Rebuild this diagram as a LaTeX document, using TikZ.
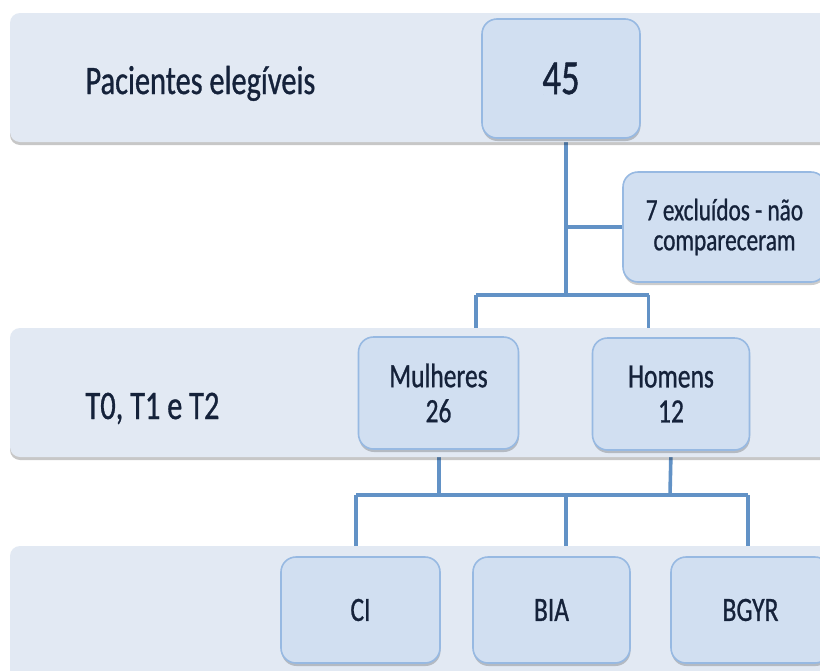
\documentclass[tikz,border=0pt]{standalone}
\usepackage{fontspec}
\setmainfont{Carlito}[FakeStretch=0.75,FakeBold=0.8]
\usetikzlibrary{shadows}
\definecolor{bandfill}{HTML}{E2E9F3}
\definecolor{boxfill}{HTML}{D1DFF1}
\definecolor{boxdraw}{HTML}{97B9E2}
\definecolor{linec}{HTML}{6292C6}
\definecolor{txt}{HTML}{15223A}
\pgfdeclarelayer{bg}
\pgfdeclarelayer{lines}
\pgfdeclarelayer{bands}
\pgfsetlayers{bg,lines,bands,main}
\begin{document}
\begin{tikzpicture}[x=1pt,y=-1pt,
  band/.style={rectangle, fill=bandfill, rounded corners=10pt, inner sep=0pt,
    drop shadow={shadow xshift=0pt, shadow yshift=-3pt, fill=black, opacity=0.22}},
  box/.style={rectangle, rounded corners=15pt, draw=boxdraw, line width=1.6pt,
    fill=boxfill, text=txt, align=center, inner sep=0pt,
    drop shadow={shadow xshift=0.5pt, shadow yshift=-3pt, fill=black, opacity=0.2}},
  lbl/.style={anchor=base west, text=txt, font=\fontsize{40.5}{40}\selectfont},
  conn/.style={draw=linec, line width=3.6pt},
  fbig/.style={font=\fontsize{49}{49}\selectfont},
  fmid/.style={font=\fontsize{34}{35}\selectfont},
  fsmall/.style={font=\fontsize{31}{30}\selectfont}]
\useasboundingbox (0,0) rectangle (820,670);
\begin{pgfonlayer}{bg}
\fill[white] (0,0) rectangle (820,670);
\end{pgfonlayer}

% bands
\begin{pgfonlayer}{bands}
\node[band, minimum width=840pt, minimum height=129pt] (b1) at (430,77.5) {};
\node[band, minimum width=840pt, minimum height=129pt] (b2) at (430,392.5) {};
\node[band, minimum width=840pt, minimum height=154pt] (b3) at (430,623) {};
\end{pgfonlayer}

% labels
\node[lbl] (pe) at (82,94) {Pacientes elegíveis};
\node[lbl] (tt) at (82,419) {T0, T1 e T2};

% boxes
\node[box, fbig, minimum width=158pt, minimum height=119pt] (n45) at (561,78.5) {45};
\node[box, fsmall, minimum width=203pt, minimum height=110pt] (excl) at (724.5,227) {7 excluídos - não\\compareceram};
\node[box, fmid, minimum width=160pt, minimum height=112pt] (mul) at (438.5,393) {Mulheres\\26};
\node[box, fmid, minimum width=157pt, minimum height=112pt] (hom) at (671,394) {Homens\\12};
\node[box, fmid, minimum width=159pt, minimum height=106pt] (ci) at (360.5,610) {CI};
\node[box, fmid, minimum width=157pt, minimum height=106pt] (bia) at (551.5,610) {BIA};
\node[box, fmid, minimum width=159pt, minimum height=106pt] (bgyr) at (750.5,610) {BGYR};

% junctions
\coordinate (jx) at (566,227);
\coordinate (j1) at (566,295);
\coordinate (jl) at (476,295);
\coordinate (jr) at (648.5,295);
\coordinate (k1) at (439,495);
\coordinate (k2) at (670,495);
\coordinate (kl) at (356,495);
\coordinate (km) at (566,495);
\coordinate (kr) at (748,495);

\begin{pgfonlayer}{lines}
\draw[conn] ([xshift=5pt]n45.south) -- (j1);
\draw[conn] (jx) -- (excl.west);
\draw[conn] (jl) -- (jr);
\draw[conn] (jl) -- (jl |- mul.north);
\draw[conn] (jr) -- (jr |- hom.north);
\draw[conn] ([xshift=0.5pt]mul.south) -- (k1);
\draw[conn] (hom.south) -- (k2);
\draw[conn] (kl) -- (kr);
\draw[conn] (kl) -- (kl |- ci.north);
\draw[conn] (km) -- (km |- bia.north);
\draw[conn] (kr) -- (kr |- bgyr.north);
\end{pgfonlayer}
\end{tikzpicture}
\end{document}
